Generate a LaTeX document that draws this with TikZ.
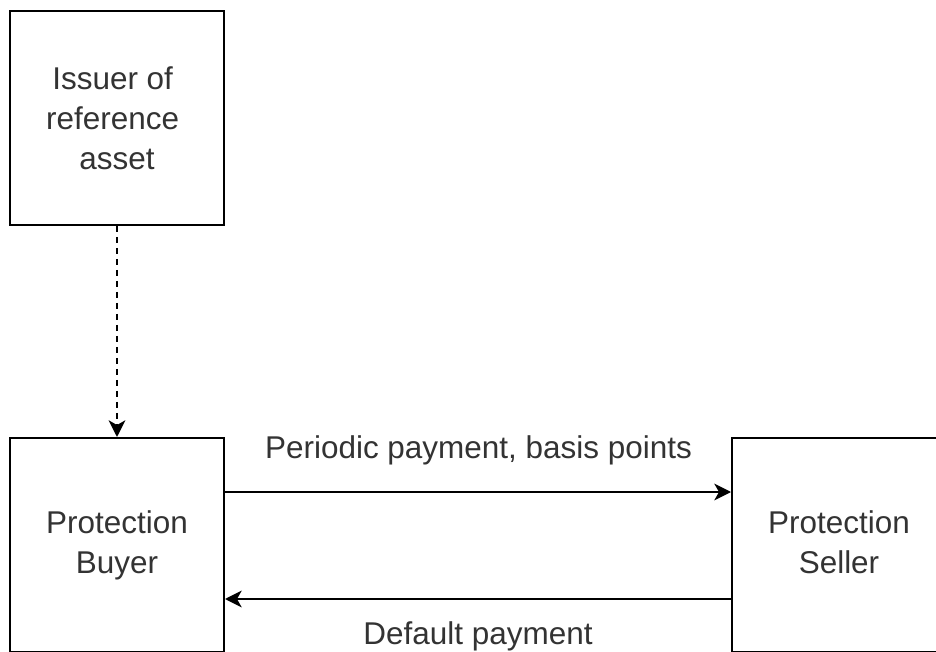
\documentclass[tikz,border=0pt]{standalone}
\usepackage{fontspec}
\setmainfont{Liberation Sans}
\usetikzlibrary{arrows.meta}
\definecolor{txt}{RGB}{51,51,51}
\tikzset{
  box/.style={draw=black, line width=1.5pt, minimum width=160.5pt, minimum height=160.5pt, inner sep=0pt, align=center, text=txt, font=\fontsize{23.6}{30}\selectfont},
  lbl/.style={text=txt, font=\fontsize{23.6}{30}\selectfont, inner sep=0pt},
  conn/.style={line width=1.5pt, -{Stealth[length=12.5pt, width=12.5pt, inset=3.5pt]}},
  dconn/.style={line width=1.5pt, dash pattern=on 4.5pt off 3.75pt, -{Stealth[length=12.5pt, width=12.5pt, inset=3.5pt]}}
}
\begin{document}
\begin{tikzpicture}[x=0.75pt, y=-0.75pt]
\fill[white] (0,0) rectangle (936,652);
\useasboundingbox (0,0) rectangle (936,652);
\clip (0,0) rectangle (936,652);
\node[box] (issuer) at (117,118) {Issuer of\kern6.5pt\\reference\kern6.5pt\\asset};
\node[box] (buyer) at (117,545) {\strut Protection\\Buyer\strut};
\node[box] (seller) at (839,545) {\strut Protection\\Seller\strut};
\draw[dconn] (issuer.south) -- (buyer.north);
\coordinate (b1) at ([yshift=39.75pt]buyer.east);
\coordinate (s1) at ([yshift=39.75pt]seller.west);
\coordinate (b2) at ([yshift=-40.5pt]buyer.east);
\coordinate (s2) at ([yshift=-40.5pt]seller.west);
\draw[conn] (b1) -- (s1);
\draw[conn] (s2) -- (b2);
\node[lbl] (l1) at (478.5,450) {Periodic payment, basis points};
\node[lbl] (l2) at (478,636) {Default payment};
\end{tikzpicture}
\end{document}
